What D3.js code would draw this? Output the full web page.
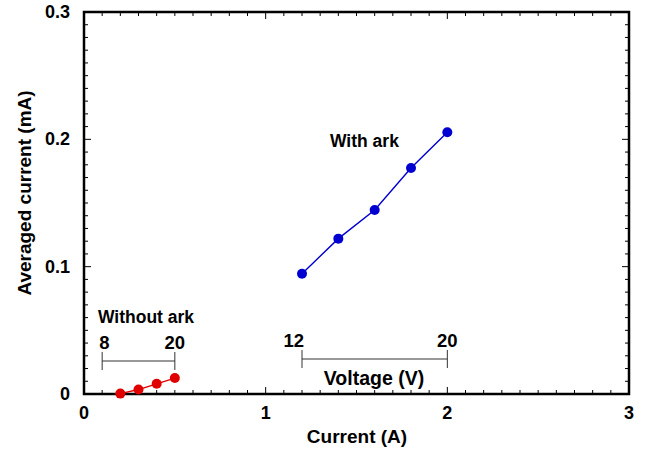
<!DOCTYPE html>
<html>
<head>
<meta charset="utf-8">
<script src="https://cdn.jsdelivr.net/npm/d3@7"></script>
<style>
  body { margin: 0; background: #fff; }
  text { font-family: "Liberation Sans", Arial, sans-serif; font-weight: bold; fill: #000; }
</style>
</head>
<body>
<div id="chart"></div>
<script>
(function () {
  "use strict";

  // data
  const withArkCurrent = [1.2, 1.4, 1.6, 1.8, 2.0];
  const withArkAvg = [0.0945, 0.122, 0.1445, 0.1775, 0.2055];
  const withoutArkCurrent = [0.2, 0.3, 0.4, 0.5];
  const withoutArkAvg = [0.0003, 0.0035, 0.008, 0.0125];
  const xTicks = [0, 1, 2, 3];
  const yTicks = [0, 0.1, 0.2, 0.3];
  const voltWithout = { from: 0.1, to: 0.5, labels: ["8", "20"] };
  const voltWith = { from: 1.2, to: 2.0, labels: ["12", "20"] };

  const W = 649, H = 450;
  const m = { left: 84, right: 20, top: 12, bottom: 56 };
  const BLUE = "#0000d0";
  const RED = "#e00000";

  const svg = d3.select("#chart").append("svg")
    .attr("width", W).attr("height", H);

  const x = d3.scaleLinear().domain([0, 3]).range([m.left, W - m.right]);
  const y = d3.scaleLinear().domain([0, 0.3]).range([H - m.bottom, m.top]);

  const minorX = d3.range(0, 31).map(function (i) { return i / 10; });
  const minorY = d3.range(0, 31).map(function (i) { return i / 100; });

  /* ticks (inward, mirrored) */
  const g = svg.append("g").attr("stroke", "#000").attr("stroke-width", 1);
  minorX.forEach(function (v, i) {
    const len = i % 10 === 0 ? 7 : 4;
    g.append("line").attr("x1", x(v)).attr("x2", x(v))
      .attr("y1", y(0)).attr("y2", y(0) - len);
    g.append("line").attr("x1", x(v)).attr("x2", x(v))
      .attr("y1", y(0.3)).attr("y2", y(0.3) + len);
  });
  minorY.forEach(function (v, i) {
    const len = i % 10 === 0 ? 7 : 4;
    g.append("line").attr("x1", x(0)).attr("x2", x(0) + len)
      .attr("y1", y(v)).attr("y2", y(v));
    g.append("line").attr("x1", x(3)).attr("x2", x(3) - len)
      .attr("y1", y(v)).attr("y2", y(v));
  });

  /* frame */
  svg.append("rect")
    .attr("x", x(0)).attr("y", y(0.3))
    .attr("width", x(3) - x(0)).attr("height", y(0) - y(0.3))
    .attr("fill", "none").attr("stroke", "#000").attr("stroke-width", 2.5);

  /* tick labels */
  svg.append("g").selectAll("text").data(xTicks).enter().append("text")
    .attr("x", function (d) { return x(d); })
    .attr("y", y(0) + 25)
    .attr("text-anchor", "middle")
    .style("font-size", "18px")
    .text(function (d) { return d; });

  svg.append("g").selectAll("text").data(yTicks).enter().append("text")
    .attr("x", x(0) - 14)
    .attr("y", function (d) { return y(d) + 6; })
    .attr("text-anchor", "end")
    .style("font-size", "18px")
    .text(function (d) { return d === 0 ? "0" : d3.format(".1f")(d); });

  /* axis titles */
  svg.append("text")
    .attr("x", 357).attr("y", 443)
    .attr("text-anchor", "middle")
    .style("font-size", "19px")
    .text("Current (A)");

  svg.append("text")
    .attr("transform", "translate(31,193) rotate(-90)")
    .attr("text-anchor", "middle")
    .style("font-size", "19px")
    .text("Averaged current (mA)");

  /* voltage scale bars */
  function voltBar(b, yy, firstAnchor) {
    const gb = svg.append("g");
    gb.append("line").attr("x1", x(b.from)).attr("x2", x(b.to))
      .attr("y1", yy).attr("y2", yy).attr("stroke", "#333").attr("stroke-width", 1);
    [b.from, b.to].forEach(function (v, i) {
      gb.append("line").attr("x1", x(v)).attr("x2", x(v))
        .attr("y1", yy - 9).attr("y2", yy + 9)
        .attr("stroke", "#333").attr("stroke-width", 1);
      gb.append("text").attr("x", x(v)).attr("y", yy - 12)
        .attr("text-anchor", i === 0 ? firstAnchor : "middle")
        .attr("dx", i === 0 ? (firstAnchor === "start" ? -3 : 2) : 0)
        .style("font-size", "18.5px")
        .text(b.labels[i]);
    });
    return gb;
  }
  voltBar(voltWithout, 361, "start");
  voltBar(voltWith, 359, "end");

  svg.append("text")
    .attr("x", 374).attr("y", 385)
    .attr("text-anchor", "middle")
    .style("font-size", "19.5px")
    .text("Voltage (V)");

  /* series */
  const line = d3.line()
    .x(function (d) { return x(d[0]); })
    .y(function (d) { return y(d[1]); });

  function series(xs, ys, color) {
    const pts = xs.map(function (v, i) { return [v, ys[i]]; });
    svg.append("path").datum(pts).attr("d", line)
      .attr("fill", "none").attr("stroke", color).attr("stroke-width", 1.4);
    svg.append("g").selectAll("circle").data(pts).enter().append("circle")
      .attr("cx", function (d) { return x(d[0]); })
      .attr("cy", function (d) { return y(d[1]); })
      .attr("r", 5)
      .attr("fill", color);
  }
  series(withArkCurrent, withArkAvg, BLUE);
  series(withoutArkCurrent, withoutArkAvg, RED);

  /* annotations */
  svg.append("text").attr("x", 330).attr("y", 147)
    .style("font-size", "17.5px").text("With ark");
  svg.append("text").attr("x", 98).attr("y", 323)
    .style("font-size", "17.5px").text("Without ark");
})();
</script>
</body>
</html>
